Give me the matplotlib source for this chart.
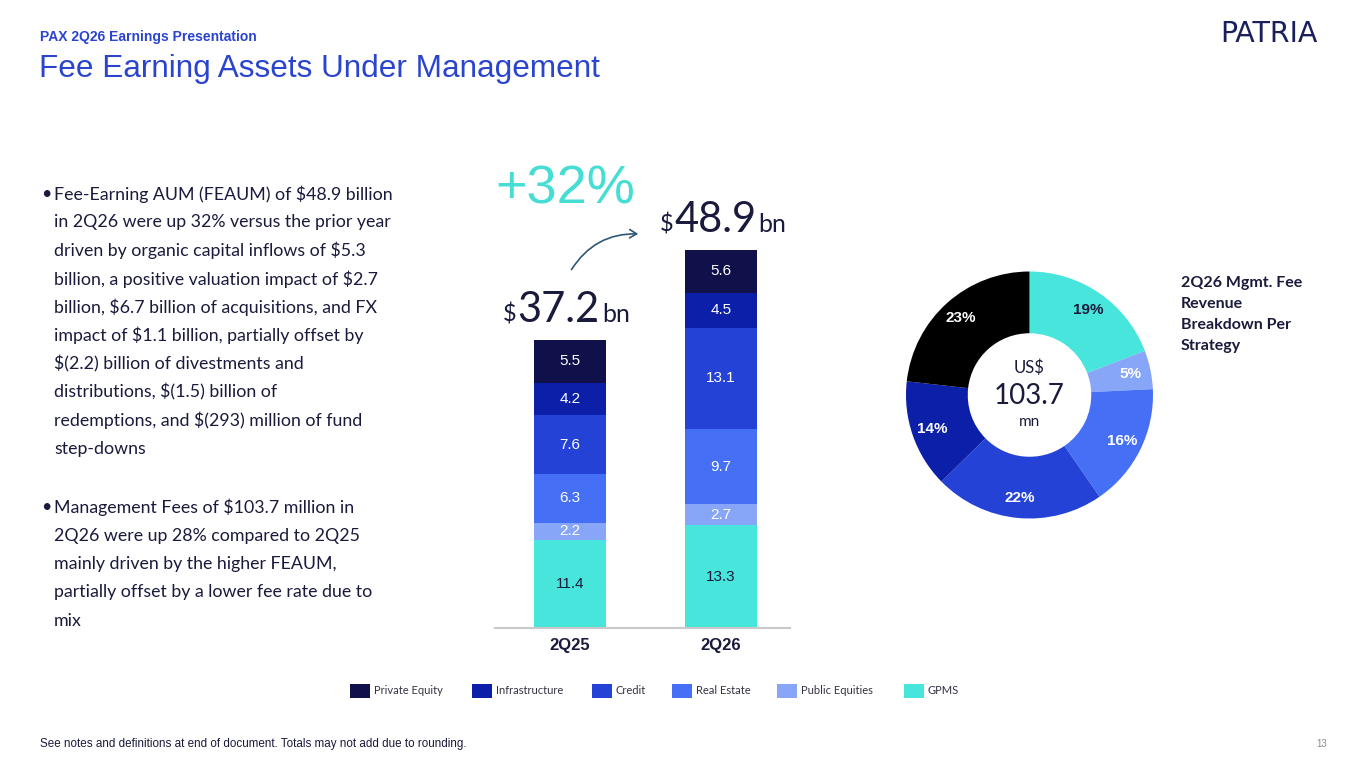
import matplotlib
matplotlib.use('Agg')
import matplotlib.pyplot as plt
from matplotlib.patches import FancyArrowPatch, Rectangle
import numpy as np

W, H = 1365, 767

# ---------------- data ----------------
categories = ['2Q25', '2Q26']
gpms = [11.4, 13.3]
public_equities = [2.2, 2.7]
real_estate = [6.3, 9.7]
credit = [7.6, 13.1]
infrastructure = [4.2, 4.5]
private_equity = [5.5, 5.6]
total_labels = ['37.2', '48.9']
growth_label = '+32%'

legend_names = ['Private Equity', 'Infrastructure', 'Credit', 'Real Estate', 'Public Equities', 'GPMS']

donut_names = ['GPMS', 'Public Equities', 'Real Estate', 'Credit', 'Infrastructure', 'Private Equity']
donut_pct = [19, 5, 16, 22, 14, 23]
donut_total = '103.7'

bullet1 = ["Fee-Earning AUM (FEAUM) of $48.9 billion",
           "in 2Q26 were up 32% versus the prior year",
           "driven by organic capital inflows of $5.3",
           "billion, a positive valuation impact of $2.7",
           "billion, $6.7 billion of acquisitions, and FX",
           "impact of $1.1 billion, partially offset by",
           "$(2.2) billion of divestments and",
           "distributions, $(1.5) billion of",
           "redemptions, and $(293) million of fund",
           "step-downs"]
bullet2 = ["Management Fees of $103.7 million in",
           "2Q26 were up 28% compared to 2Q25",
           "mainly driven by the higher FEAUM,",
           "partially offset by a lower fee rate due to",
           "mix"]

# ---------------- styles ----------------
C_PE = '#10104a'
C_INF = '#0b1fa8'
C_CRED = '#2443d6'
C_RE = '#4570f5'
C_PUB = '#88a6f8'
C_GPMS = '#47e5dc'
C_PE_DONUT = '#000000'
NAVY = '#1a1a3c'
BLUE_T = '#2a44d0'

fig = plt.figure(figsize=(W / 100, H / 100), dpi=100)
fig.patch.set_facecolor('white')


def fx(x):
    return x / W


def fy(y):
    return 1 - y / H


def txt(x, y, s, **kw):
    kw.setdefault('parse_math', False)
    return fig.text(fx(x), fy(y), s, **kw)


# ---------------- header ----------------
txt(40, 37, 'PAX 2Q26 Earnings Presentation', family='Liberation Sans', weight='bold',
    size=10, color=BLUE_T, va='center')
txt(39, 69, 'Fee Earning Assets Under Management', family='Liberation Sans',
    size=22.7, color=BLUE_T, va='center')
txt(1269, 34, 'PATRIA', family='DejaVu Sans', size=20.5, color='#1b1f5c', va='center',
    ha='center', weight='normal')

# ---------------- bullets ----------------
BS = 12.8
y0 = 194
for i, line in enumerate(bullet1):
    if i == 0:
        txt(41, y0, '\u2022', family='Lato', size=BS, color=NAVY, va='center')
    txt(54, y0 + i * 28.33, line, family='Lato', size=BS, color=NAVY, va='center')
y1 = 507.3
for i, line in enumerate(bullet2):
    if i == 0:
        txt(41, y1, '\u2022', family='Lato', size=BS, color=NAVY, va='center')
    txt(54, y1 + i * 28.33, line, family='Lato', size=BS, color=NAVY, va='center')

# ---------------- stacked bars ----------------
ax = fig.add_axes([fx(495), fy(628), 295 / W, 387 / H])
ax.set_xlim(-0.497, 1.457)
ax.set_ylim(0, 50)
x = np.arange(len(categories))
series = [(gpms, C_GPMS, NAVY), (public_equities, C_PUB, 'white'),
          (real_estate, C_RE, 'white'), (credit, C_CRED, 'white'),
          (infrastructure, C_INF, 'white'), (private_equity, C_PE, 'white')]
bottom = np.zeros(len(categories))
for vals, col, tcol in series:
    vals = np.array(vals)
    ax.bar(x, vals, width=0.483, bottom=bottom, color=col, edgecolor='none')
    for xi, v, b in zip(x, vals, bottom):
        ax.text(xi, b + v / 2, f'{v:.1f}', ha='center', va='center', color=tcol,
                family='Liberation Sans', size=11)
    bottom = bottom + vals
for s in ['top', 'right', 'left']:
    ax.spines[s].set_visible(False)
ax.spines['bottom'].set_color('#c9c9c9')
ax.spines['bottom'].set_linewidth(1.5)
ax.set_yticks([])
ax.set_xticks(x)
ax.set_xticklabels(categories, family='Liberation Sans', weight='bold', size=12, color=NAVY)
ax.tick_params(axis='x', length=0, pad=7)
ax.patch.set_alpha(0)

# ---------------- totals & growth ----------------
renderer = fig.canvas.get_renderer()


def rich(xs, ybase, parts):
    cur = xs
    for s, size, gap in parts:
        t = txt(cur, ybase, s, family='Lato', size=size, color=NAVY, va='baseline')
        bb = t.get_window_extent(renderer)
        cur = bb.x1 + gap


rich(503, 322, [('$', 17, 1), (total_labels[0], 30, 2), ('bn', 18, 0)])
rich(660, 232, [('$', 17, 1), (total_labels[1], 30, 2), ('bn', 18, 0)])
txt(495, 189, growth_label, family='Liberation Sans', size=39, color='#45ddd4', va='center')

arrow = FancyArrowPatch((fx(570), fy(272)), (fx(641), fy(234)), transform=fig.transFigure,
                        connectionstyle='arc3,rad=-0.3', arrowstyle='->,head_length=5,head_width=3',
                        color='#2d5877', lw=1.2)
fig.patches.append(arrow)

# ---------------- donut ----------------
R = 123.5
ax2 = fig.add_axes([fx(1029.5 - 130), fy(395 + 130), 260 / W, 260 / H])
donut_colors = [C_GPMS, C_PUB, C_RE, C_CRED, C_INF, C_PE_DONUT]
wedges, _ = ax2.pie(donut_pct, colors=donut_colors, startangle=90, counterclock=False,
                    radius=1, wedgeprops=dict(width=0.5, edgecolor='none'))
lim = 130 / R
ax2.set_xlim(-lim, lim)
ax2.set_ylim(-lim, lim)
ax2.set_aspect('equal')
ax2.axis('off')
for w, p, name in zip(wedges, donut_pct, donut_names):
    th = np.deg2rad((w.theta1 + w.theta2) / 2)
    col = NAVY if name == 'GPMS' else 'white'
    ax2.text(0.835 * np.cos(th), 0.835 * np.sin(th), f'{p}%', ha='center', va='center',
             color=col, weight='bold', family='Liberation Sans', size=11)
ax2.text(0, 0.22, 'US$', ha='center', va='center', family='Lato', size=12, color=NAVY)
ax2.text(0, -0.01, donut_total, ha='center', va='center', family='Lato', size=20, color=NAVY)
ax2.text(0, -0.22, 'mn', ha='center', va='center', family='Lato', size=11, color=NAVY)

for i, line in enumerate(['2Q26 Mgmt. Fee', 'Revenue', 'Breakdown Per', 'Strategy']):
    txt(1181, 283 + i * 21, line, family='Lato', weight='bold', size=11.5, color=NAVY, va='center')

# ---------------- legend ----------------
leg_colors = [C_PE, C_INF, C_CRED, C_RE, C_PUB, C_GPMS]
leg_x = [350, 472, 592, 672, 777, 904]
for name, col, lx in zip(legend_names, leg_colors, leg_x):
    fig.patches.append(Rectangle((fx(lx), fy(698)), 20 / W, 14 / H, transform=fig.transFigure,
                                 facecolor=col, edgecolor='none'))
    txt(lx + 24, 691, name, family='Lato', size=8, color='#333344', va='center')

# ---------------- footer ----------------
txt(40, 744, 'See notes and definitions at end of document. Totals may not add due to rounding.',
    family='Liberation Sans', size=8.4, color=NAVY, va='center')
txt(1327, 744, '13', family='Liberation Sans', size=7, color='#8a8a8a', va='center', ha='right')

fig.savefig('out.png', dpi=100, facecolor='white')
